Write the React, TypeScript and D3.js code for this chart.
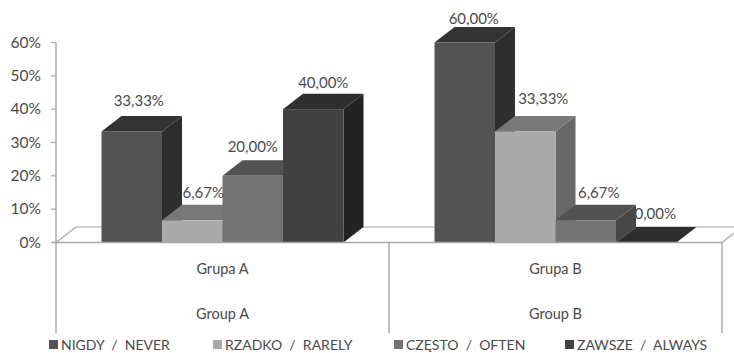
import React from "react";
import * as d3 from "d3";

const groupsPl = ["Grupa A", "Grupa B"];
const groupsEn = ["Group A", "Group B"];
const seriesNames = ["NIGDY  /  NEVER", "RZADKO  /  RARELY", "CZĘSTO  /  OFTEN", "ZAWSZE  /  ALWAYS"];
const groupAValues = [33.33, 6.67, 20, 40];
const groupBValues = [60, 33.33, 6.67, 0];
const valueTicks = [0, 10, 20, 30, 40, 50, 60];
const frontColors = ["#535353", "#aaaaaa", "#737373", "#414141"];
const topColors = ["#333333", "#787878", "#525252", "#2e2e2e"];
const sideColors = ["#2e2e2e", "#676767", "#474747", "#232323"];
const legendX = [49, 213, 394, 565];

// Hand-placed data label offsets from each bar's front-top centre, per group and series.
const labelDx = [[7, 11, 0, 10], [9, 18, 13, 9]];
const labelDy = [[-25, -22, -24, -21], [-18.5, -27, -22, -24]];

const FONT = "Lato, 'Open Sans', sans-serif";
const TEXT = "#4a4a4a";
const AXIS = "#a6a6a6";
const DX = 20;
const DY = 15.5;

export default function App() {
  const y = d3.scaleLinear().domain([0, 60]).range([242.5, 42.5]);
  const x0 = d3.scaleBand<number>().domain([0, 1]).range([56, 722]);
  const x1 = d3.scaleBand<number>().domain([0, 1, 2, 3]).range([45.5, 287.5]);
  const pts = (p: number[][]) => p.map((q) => q.join(",")).join(" ");
  const base = y(0);
  const right = x0.range()[1];

  const bars = [groupAValues, groupBValues].flatMap((vals, g) =>
    vals.map((v, s) => {
      const l = x0(g)! + x1(s)!;
      const r = l + x1.bandwidth();
      const t = y(v);
      return { g, s, v, l, r, t };
    })
  );

  return (
    <svg width={734} height={353} style={{ position: "absolute", left: 0, top: 0, background: "#fff" }} fontFamily={FONT}>
      {/* floor of the 3D plot */}
      <polyline
        points={pts([[56, base], [56 + DX, base - DY], [right + DX, base - DY], [right, base]])}
        fill="none"
        stroke={AXIS}
        strokeWidth={1.2}
      />

      {bars.map((b) => (
        <g key={`${b.g}-${b.s}`}>
          <polygon points={pts([[b.r, b.t], [b.r + DX, b.t - DY], [b.r + DX, base - DY], [b.r, base]])} fill={sideColors[b.s]} />
          <polygon points={pts([[b.l, b.t], [b.l + DX, b.t - DY], [b.r + DX, b.t - DY], [b.r, b.t]])} fill={b.v === 0 ? "#2e2e2e" : topColors[b.s]} />
          <rect x={b.l} y={b.t} width={b.r - b.l} height={base - b.t} fill={frontColors[b.s]} />
        </g>
      ))}

      {/* value axis and multi-level category axis */}
      <line x1={56} x2={56} y1={42.5} y2={333} stroke={AXIS} strokeWidth={1.4} />
      <line x1={51} x2={right} y1={base} y2={base} stroke={AXIS} strokeWidth={1.4} />
      {[1, 2].map((i) => {
        const xp = i === 1 ? x0(1)! : right;
        return <line key={i} x1={xp} x2={xp} y1={base} y2={333} stroke={AXIS} strokeWidth={1.4} />;
      })}
      {valueTicks.map((t) => (
        <g key={t}>
          <line x1={51} x2={56} y1={y(t)} y2={y(t)} stroke={AXIS} strokeWidth={1.2} />
          <text x={41} y={y(t) + 5} textAnchor="end" fontSize={15.5} fill={TEXT}>{t}%</text>
        </g>
      ))}

      {bars.map((b) => (
        <text
          key={`l-${b.g}-${b.s}`}
          x={(b.l + b.r) / 2 + labelDx[b.g][b.s]}
          y={b.t + labelDy[b.g][b.s]}
          textAnchor="middle"
          fontSize={15}
          fill={TEXT}
        >
          {b.v.toFixed(2).replace(".", ",")}%
        </text>
      ))}

      {groupsPl.map((name, g) => {
        const cx = x0(g)! + x0.bandwidth() / 2;
        return (
          <g key={name} textAnchor="middle" fontSize={14.5} fill={TEXT}>
            <text x={cx} y={274}>{name}</text>
            <text x={cx} y={319}>{groupsEn[g]}</text>
          </g>
        );
      })}

      {seriesNames.map((name, i) => (
        <g key={name}>
          <rect x={legendX[i]} y={340} width={9} height={9} fill={frontColors[i]} />
          <text x={legendX[i] + 12} y={350} fontSize={14} fill={TEXT} xmlSpace="preserve" style={{ whiteSpace: "pre" }}>{name}</text>
        </g>
      ))}
    </svg>
  );
}
